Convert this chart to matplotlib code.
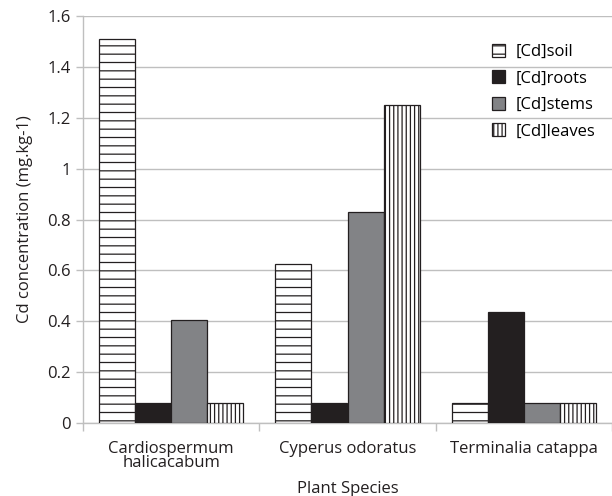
import matplotlib.pyplot as plt
import numpy as np

plt.rcParams['font.family'] = ['Open Sans', 'DejaVu Sans']
plt.rcParams['hatch.linewidth'] = 0.9

species = ['Cardiospermum\nhalicacabum', 'Cyperus odoratus', 'Terminalia catappa']
series = ['[Cd]soil', '[Cd]roots', '[Cd]stems', '[Cd]leaves']
soil = [1.51, 0.625, 0.08]
roots = [0.08, 0.08, 0.435]
stems = [0.405, 0.83, 0.08]
leaves = [0.08, 1.25, 0.08]
yticks = [0, 0.2, 0.4, 0.6, 0.8, 1, 1.2, 1.4, 1.6]

dark = '#231f20'
grey = '#bfbfbf'
fs = 12
styles = [
    dict(color='white', edgecolor=dark, hatch='--'),
    dict(color=dark, edgecolor=dark),
    dict(color='#828386', edgecolor=dark),
    dict(color='white', edgecolor=dark, hatch='||||'),
]

fig = plt.figure(figsize=(6.12, 4.96), dpi=100)
ax = fig.add_axes([83 / 612, 73 / 496, 529 / 612, 407 / 496])

x = np.arange(len(species))
w = 0.205
for i, (name, vals) in enumerate(zip(series, [soil, roots, stems, leaves])):
    ax.bar(x + (i - 1.5) * w, vals, w, label=name, linewidth=0.9, zorder=3, **styles[i])

ax.set_xlim(-0.5, 2.5)
ax.set_ylim(0, 1.6)
ax.set_yticks(yticks)
ax.set_yticklabels(['%g' % v for v in yticks])
ax.yaxis.grid(True, color=grey, linewidth=1, zorder=0)
ax.set_axisbelow(True)

ax.set_xticks(x)
ax.set_xticklabels(species, linespacing=0.85)
ax.set_xticks([-0.5, 0.5, 1.5, 2.5], minor=True)
ax.tick_params(axis='x', which='major', length=0, pad=13, labelsize=fs, colors=dark)
ax.tick_params(axis='x', which='minor', length=6, color=grey, width=1)
ax.tick_params(axis='y', length=5, color=grey, width=1, labelsize=fs, labelcolor=dark, pad=4)

for s in ['top', 'right']:
    ax.spines[s].set_visible(False)
for s in ['left', 'bottom']:
    ax.spines[s].set_color(grey)
    ax.spines[s].set_linewidth(1)

ax.set_xlabel('Plant Species', fontsize=fs, labelpad=7, color=dark)
ax.set_ylabel('Cd concentration (mg.kg-1)', fontsize=fs, labelpad=10, color=dark)

ax.legend(loc='upper right', bbox_to_anchor=(0.99, 0.96), frameon=False, fontsize=fs,
          handlelength=0.8, handleheight=0.8, handletextpad=0.6, labelspacing=0.62,
          borderaxespad=0.3)

fig.savefig('out.png', dpi=100)
